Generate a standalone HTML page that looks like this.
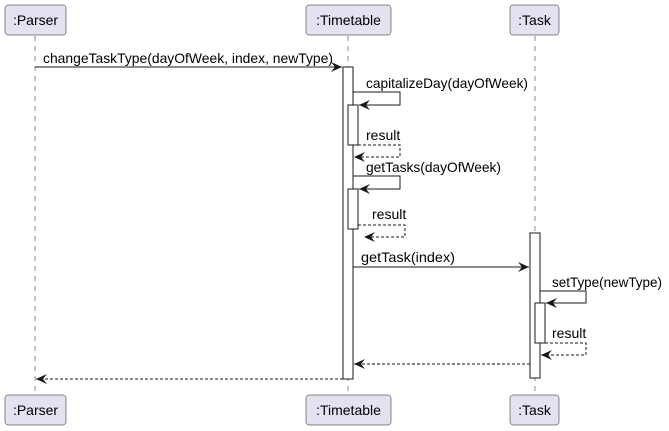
<!DOCTYPE html>
<html><head><style>body{margin:0;background:#fff}svg{display:block}</style></head><body>
<svg width="669" height="431" xmlns="http://www.w3.org/2000/svg" font-family="'Liberation Sans',sans-serif" font-size="13">
<defs><marker id="a" markerWidth="12" markerHeight="10" refX="11" refY="5" orient="auto" markerUnits="userSpaceOnUse"><path d="M0,0 L11,5 L0,10 L4,5 Z" fill="#181818"/></marker></defs>
<g stroke="#181818" stroke-width="0.5" stroke-dasharray="5,5">
<line x1="35" y1="36" x2="35" y2="395"/><line x1="348" y1="36" x2="348" y2="395"/><line x1="535" y1="36" x2="535" y2="395"/></g>
<g fill="#E2E2F0" stroke="#181818" stroke-width="0.5">
<rect x="5" y="5" width="61" height="30" rx="3"/><rect x="306" y="5" width="85" height="30" rx="3"/><rect x="510" y="5" width="49" height="30" rx="3"/>
<rect x="5" y="395" width="61" height="30" rx="3"/><rect x="306" y="395" width="85" height="30" rx="3"/><rect x="510" y="395" width="49" height="30" rx="3"/></g>
<g font-size="14" fill="#000" text-anchor="middle">
<text x="35.5" y="25">:Parser</text><text x="348.5" y="25">:Timetable</text><text x="534.5" y="25">:Task</text>
<text x="35.5" y="415">:Parser</text><text x="348.5" y="415">:Timetable</text><text x="534.5" y="415">:Task</text></g>
<g fill="#fff" stroke="#181818" stroke-width="1">
<rect x="343" y="67" width="10" height="312"/><rect x="348" y="105" width="10" height="40"/><rect x="348" y="189" width="10" height="40"/>
<rect x="530" y="233" width="10" height="145"/><rect x="535" y="303" width="10" height="40"/></g>
<g stroke="#181818" stroke-width="1" fill="none">
<line x1="35" y1="67" x2="342" y2="67" marker-end="url(#a)"/>
<polyline points="353,92 400,92 400,105 359,105" marker-end="url(#a)"/>
<polyline points="358,145 400,145 400,157 354,157" stroke-dasharray="3,2" marker-end="url(#a)"/>
<polyline points="353,176 400,176 400,189 359,189" marker-end="url(#a)"/>
<polyline points="358,225 405,225 405,237 364,237" stroke-dasharray="3,2" marker-end="url(#a)"/>
<line x1="353" y1="267" x2="529" y2="267" marker-end="url(#a)"/>
<polyline points="540,291 586,291 586,303 546,303" marker-end="url(#a)"/>
<polyline points="545,343 586,343 586,355 541,355" stroke-dasharray="3,2" marker-end="url(#a)"/>
<line x1="530" y1="364" x2="354" y2="364" stroke-dasharray="3,2" marker-end="url(#a)"/>
<line x1="343" y1="379" x2="36" y2="379" stroke-dasharray="3,2" marker-end="url(#a)"/>
</g>
<g fill="#000" font-size="14">
<text x="43" y="63" textLength="290" lengthAdjust="spacingAndGlyphs">changeTaskType(dayOfWeek, index, newType)</text>
<text x="366" y="88" textLength="162" lengthAdjust="spacingAndGlyphs">capitalizeDay(dayOfWeek)</text>
<text x="366" y="140">result</text>
<text x="366" y="172" textLength="135" lengthAdjust="spacingAndGlyphs">getTasks(dayOfWeek)</text>
<text x="372" y="219">result</text>
<text x="361" y="262" textLength="94" lengthAdjust="spacingAndGlyphs">getTask(index)</text>
<text x="552" y="287" textLength="110" lengthAdjust="spacingAndGlyphs">setType(newType)</text>
<text x="552" y="338">result</text>
</g>
</svg>
</body></html>
